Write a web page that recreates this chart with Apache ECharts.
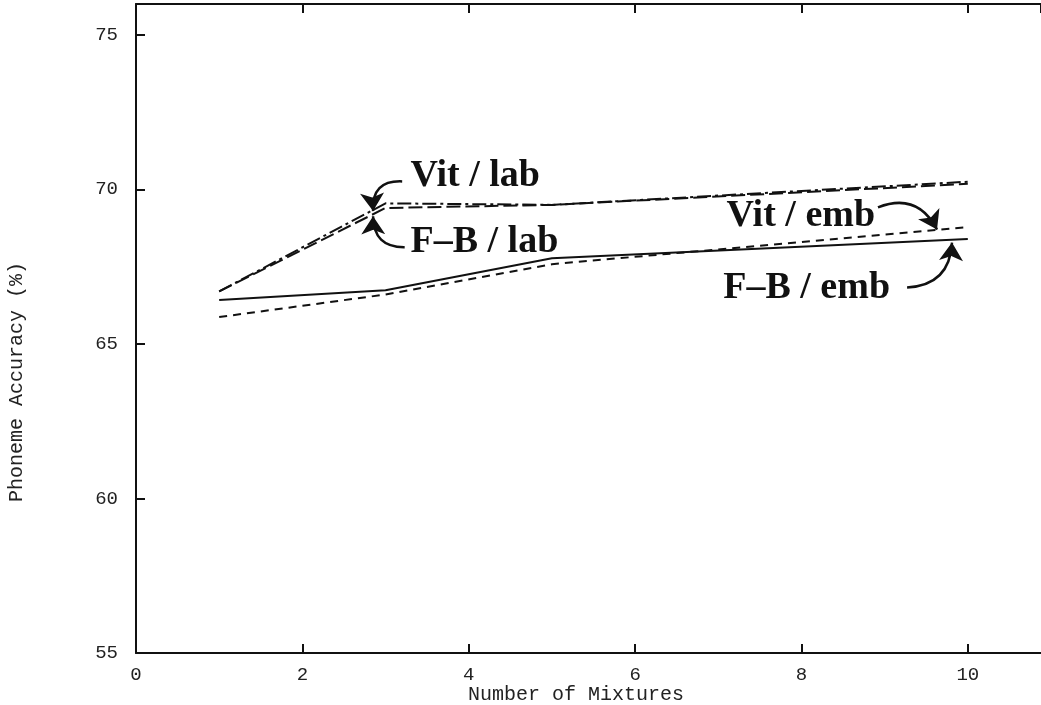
<!DOCTYPE html>
<html><head><meta charset="utf-8">
<script src="https://cdn.jsdelivr.net/npm/echarts@6/dist/echarts.min.js"></script>
<style>html,body{margin:0;padding:0;background:#fff}#c{width:1041px;height:705px}</style>
</head><body><div id="c"></div>
<script>
const mixtures = [1, 3, 5, 10];
const vitLab = [66.7, 69.55, 69.5, 70.25];
const fbLab = [66.7, 69.4, 69.5, 70.18];
const vitEmb = [65.87, 66.6, 67.58, 68.78];
const fbEmb = [66.42, 66.74, 67.77, 68.4];
const xTicks = [0, 2, 4, 6, 8, 10];
const yTicks = [55, 60, 65, 70, 75];

const pairs = ys => mixtures.map((x, i) => [x, ys[i]]);
const mono = 'Liberation Mono';
const serif = 'Liberation Serif';

function lineSeries(name, ys, type, extra) {
  return Object.assign({
    name, type: 'line', data: pairs(ys), symbol: 'none', silent: true,
    lineStyle: { color: '#111', width: 2, type: type }
  }, extra || {});
}
function textMark(text, coord) {
  return { coord, value: text, symbol: 'rect', symbolSize: 0,
    itemStyle: { color: 'rgba(0,0,0,0)' },
    label: { show: true, formatter: text, position: 'right', distance: 0,
      fontFamily: serif, fontWeight: 'bold', fontSize: 38, color: '#111' } };
}
function arrowSeries(from, to, curve) {
  return {
    type: 'lines', coordinateSystem: 'cartesian2d', silent: true,
    symbol: ['none', 'arrow'], symbolSize: [11, 18],
    lineStyle: { color: '#111', width: 2.5, type: 'solid', curveness: curve, opacity: 1 },
    data: [{ coords: [from, to] }]
  };
}

const chart = echarts.init(document.getElementById('c'));
chart.setOption({
  animation: false,
  grid: { left: 136, top: 4, right: 0, bottom: 52 },
  xAxis: [{
    type: 'value', min: 0, max: 10.88, interval: 2,
    axisLine: { lineStyle: { color: '#111', width: 2 } },
    axisTick: { inside: true, length: 9, lineStyle: { color: '#111', width: 2 } },
    splitLine: { show: false },
    axisLabel: { margin: 12, fontFamily: mono, fontSize: 19, color: '#222',
      showMaxLabel: false, formatter: v => xTicks.includes(v) ? String(v) : '' }
  }, {
    type: 'value', min: 0, max: 10.88, interval: 2, position: 'top',
    axisLine: { lineStyle: { color: '#111', width: 2 } },
    axisTick: { inside: true, length: 9, lineStyle: { color: '#111', width: 2 } },
    axisLabel: { show: false }, splitLine: { show: false }
  }],
  yAxis: {
    type: 'value', min: 55, max: 76, interval: 5,
    axisLine: { lineStyle: { color: '#111', width: 2 } },
    axisTick: { inside: true, length: 9, lineStyle: { color: '#111', width: 2 } },
    splitLine: { show: false },
    axisLabel: { margin: 18, fontFamily: mono, fontSize: 19, color: '#222',
      showMaxLabel: false, formatter: v => yTicks.includes(v) ? String(v) : '' }
  },
  graphic: [{
    type: 'text', left: 7, top: 262,
    rotation: Math.PI / 2,
    style: { text: 'Phoneme Accuracy (%)', font: '20px "Liberation Mono"', fill: '#222' }
  }, {
    type: 'text', left: 468, top: 685,
    style: { text: 'Number of Mixtures', font: '20px "Liberation Mono"', fill: '#222' }
  }],
  series: [
    lineSeries('Vit / lab', vitLab, [14, 4, 3, 4], {
      markPoint: { silent: true, data: [
        textMark('Vit / lab', [3.3, 70.42]),
        textMark('F\u2013B / lab', [3.3, 68.3]),
        textMark('Vit / emb', [7.1, 69.12]),
        textMark('F\u2013B / emb', [7.06, 66.8])
      ] }
    }),
    lineSeries('F-B / lab', fbLab, [14, 5]),
    lineSeries('Vit / emb', vitEmb, [8, 6]),
    lineSeries('F-B / emb', fbEmb, 'solid'),
    arrowSeries([3.2, 70.26], [2.85, 69.3], -0.55),
    arrowSeries([3.23, 68.13], [2.85, 69.13], 0.5),
    arrowSeries([8.92, 69.42], [9.63, 68.7], 0.45),
    arrowSeries([9.27, 66.83], [9.81, 68.28], -0.45)
  ]
});
</script></body></html>
